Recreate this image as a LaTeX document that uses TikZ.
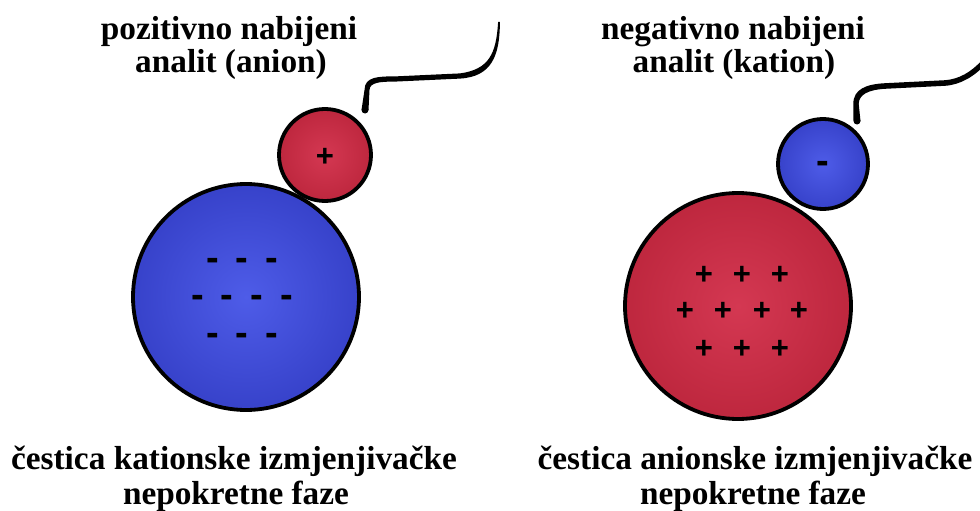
\documentclass[tikz,border=0pt]{standalone}
\usepackage{fontspec}
\setmainfont{Liberation Serif}
\newfontfamily\lblfont{Liberation Serif}[BoldFont={Liberation Serif Bold}]
\newfontfamily\signfont{Liberation Sans}[BoldFont={Liberation Sans Bold}]
\definecolor{bluein}{RGB}{78,92,232}
\definecolor{blueout}{RGB}{32,40,172}
\definecolor{redin}{RGB}{212,56,82}
\definecolor{redout}{RGB}{168,22,42}
\pgfdeclareradialshading{blueball}{\pgfpoint{0bp}{0bp}}{color(0bp)=(bluein); color(50bp)=(blueout)}
\pgfdeclareradialshading{redball}{\pgfpoint{0bp}{0bp}}{color(0bp)=(redin); color(50bp)=(redout)}
\tikzset{
  ball/.style={circle, draw=black, line width=3.8pt, inner sep=0pt},
  blueb/.style={ball, shading=blueball},
  redb/.style={ball, shading=redball},
  lbl/.style={anchor=base, inner sep=0pt, font=\lblfont\bfseries\fontsize{33.3}{36}\selectfont},
  sgn/.style={anchor=base, inner sep=0pt, font=\signfont\bfseries\fontsize{31}{36}\selectfont},
  msgn/.style={anchor=base, inner sep=0pt, font=\signfont\bfseries\fontsize{38}{40}\selectfont},
}
\begin{document}
\begin{tikzpicture}[x=1pt, y=-1pt]
\useasboundingbox (0,0) rectangle (980,511);
\clip (0,0) rectangle (980,511);
% balls
\node[blueb, minimum size=226pt] (bigL) at (246,297) {};
\node[redb, minimum size=92pt] (smallL) at (325,155) {};
\node[redb, minimum size=226pt] (bigR) at (738,306) {};
\node[blueb, minimum size=90pt] (smallR) at (823,164) {};
% signs
\node[sgn] (pL) at (325,166) {+};
\node[msgn] (mR) at (823,173) {-};
\foreach \x/\y [count=\i] in {213/261,242/261,272/261,198/298,227/298,257/298,287/298,213/336,242/336,272/336}
  \node[msgn] (mL\i) at (\x,\y+9) {-};
\foreach \x/\y [count=\i] in {704/273,742/273,780/273,685/309,723/309,762/309,799/309,704/347,742/347,780/347}
  \node[sgn] (pR\i) at (\x,\y+11) {+};
% connectors (tapered strokes)
\coordinate (tailL) at (365,110);
\fill (tailL) circle (3.5);
\fill (361.5,110) -- (364.5,90) .. controls (364.5,76.4) and (379,76.4) .. (395,76.4)
  -- (460,73.4) .. controls (489,69.4) and (496.2,54) .. (498.1,22)
  -- (499.9,22) .. controls (499.8,56) and (491.6,76.6) .. (460,78.6)
  -- (395,81.6) .. controls (381.6,81.6) and (369.5,82) .. (369.5,90) -- (368.5,110) -- cycle;
\coordinate (tailR) at (857,121);
\fill (tailR) circle (3.5);
\fill (853.5,121) -- (853.3,104) .. controls (853.3,89.2) and (866,84.2) .. (885,83.2)
  -- (945,80.2) .. controls (959,79.2) and (971,72.2) .. (982,60.2)
  -- (986,63.8) .. controls (975,75.8) and (961,84.8) .. (945,85.8)
  -- (885,88.8) .. controls (868,89.8) and (858.7,94.8) .. (858.7,104) -- (860.5,121) -- cycle;
% labels
\node[lbl] (tl1) at (229,40) {pozitivno nabijeni};
\node[lbl] (tl2) at (231,73) {analit (anion)};
\node[lbl] (tr1) at (733,40) {negativno nabijeni};
\node[lbl] (tr2) at (734,73) {analit (kation)};
\node[lbl] (bl1) at (234,469) {čestica kationske izmjenjivačke};
\node[lbl] (bl2) at (236,504) {nepokretne faze};
\node[lbl] (br1) at (755,469) {čestica anionske izmjenjivačke};
\node[lbl] (br2) at (753,504) {nepokretne faze};
\end{tikzpicture}
\end{document}
